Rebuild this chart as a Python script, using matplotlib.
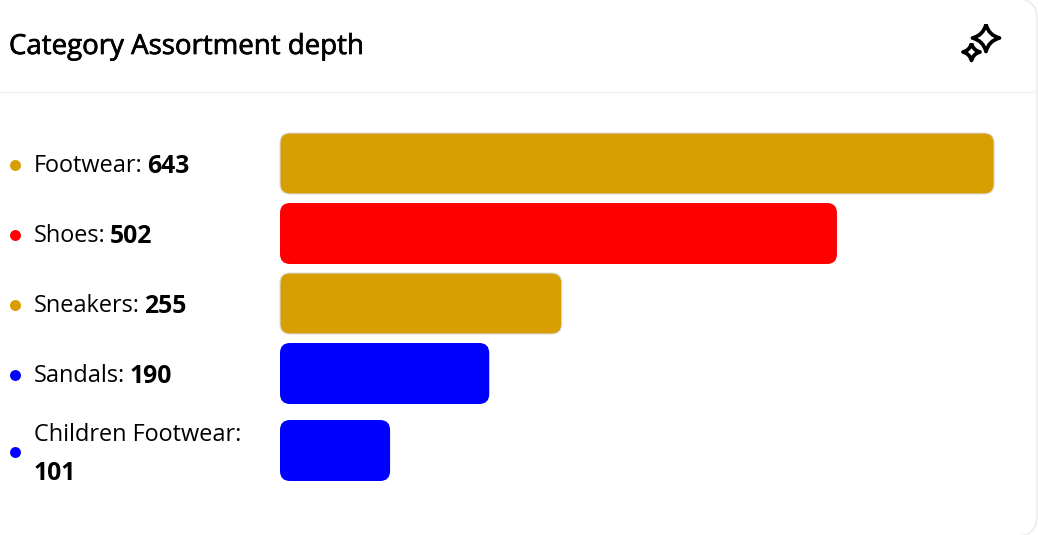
import matplotlib
matplotlib.use("Agg")
import matplotlib.pyplot as plt
import matplotlib.patheffects as pe
from matplotlib.patches import FancyBboxPatch, PathPatch
from matplotlib.path import Path

plt.rcParams['font.family'] = ['Open Sans', 'DejaVu Sans']

categories = ["Footwear", "Shoes", "Sneakers", "Sandals", "Children Footwear"]
values = [643, 502, 255, 190, 101]
colors = ["#d69e00", "#ff0000", "#d69e00", "#0000ff", "#0000ff"]
bar_centers = [163.5, 233.5, 303.5, 373.5, 450.5]

bar_left = 280
bar_height = 61


def sparkle(ax, cx, cy, r, lw):
    # four pointed star, concave sides
    k = 0.2 * r
    verts = [(cx, cy - r), (cx + k, cy - k), (cx + r, cy),
             (cx + k, cy + k), (cx, cy + r),
             (cx - k, cy + k), (cx - r, cy),
             (cx - k, cy - k), (cx, cy - r)]
    codes = [Path.MOVETO] + [Path.CURVE3] * 8
    ax.add_patch(PathPatch(Path(verts, codes), fc="white", ec="black", lw=lw, joinstyle="round"))


fig = plt.figure(figsize=(10.38, 5.35), dpi=100)
ax = fig.add_axes([0, 0, 1, 1])
ax.set_xlim(0, 1038)
ax.set_ylim(535, 0)
ax.axis('off')

# card
ax.add_patch(FancyBboxPatch((-40, -1), 1077, 537, boxstyle="round,pad=0,rounding_size=20",
                            fc="white", ec="#e9e9e9", lw=1))
ax.plot([0, 1037], [91.5, 91.5], color="#f1f1f1", lw=1)

title = ax.text(9, 47, "Category Assortment depth", fontsize=19.9, va="center", color="black")
title.set_path_effects([pe.withStroke(linewidth=0.5, foreground="black")])
sparkle(ax, 986, 38, 13.5, 2.7)
sparkle(ax, 971.5, 52, 8.5, 2.7)

renderer = fig.canvas.get_renderer()
for name, val, col, yc in zip(categories, values, colors, bar_centers):
    w = val * 1.1145 - 2.5
    ax.add_patch(FancyBboxPatch((bar_left, yc - bar_height / 2), w, bar_height,
                                boxstyle="round,pad=0,rounding_size=10",
                                fc=col, ec="#dcdcdc" if col == "#d69e00" else "none", lw=0.8))
    ax.scatter([14.5], [yc + 1.5], s=62, color=col, linewidths=0, zorder=3)
    if name == "Children Footwear":
        ax.text(34, 435, name + ":", fontsize=16.9, va="center", color="black")
        ax.text(34, 473, str(val), fontsize=17.8, fontweight="bold", va="center", color="black")
    else:
        t = ax.text(34, yc + 3, name + ":", fontsize=16.9, va="center", color="black")
        x_end = t.get_window_extent(renderer).x1
        ax.text(x_end + 4, yc + 3, str(val), fontsize=17.8, fontweight="bold", va="center", color="black")

fig.savefig("out.png", dpi=100)
